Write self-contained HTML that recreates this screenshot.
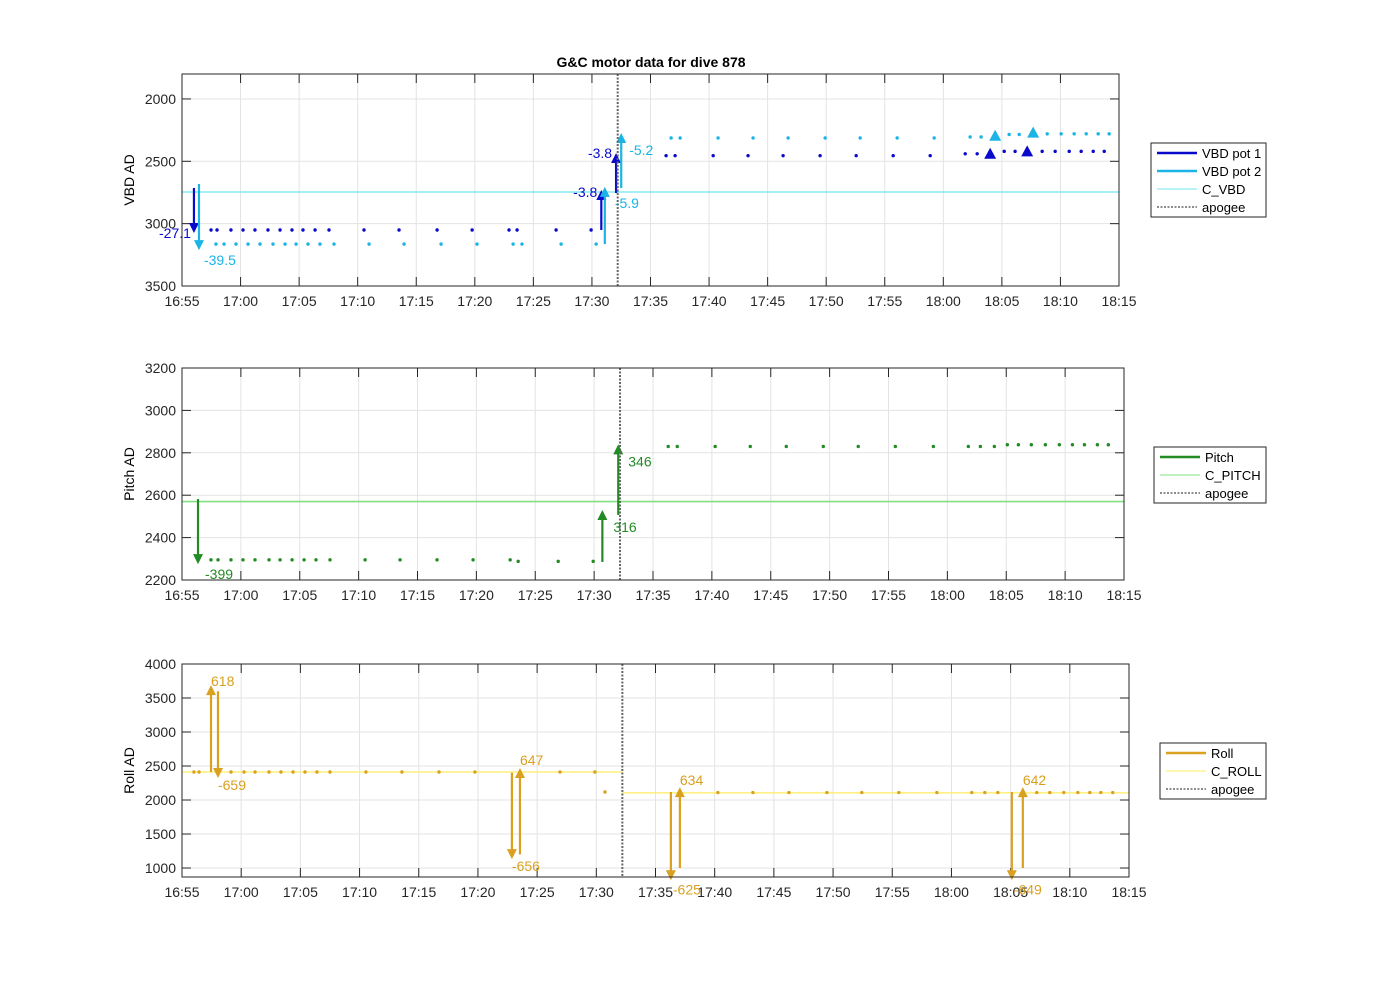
<!DOCTYPE html>
<html><head><meta charset="utf-8"><style>
body{margin:0;background:#fff;}
svg{display:block;font-family:"Liberation Sans",Arial,sans-serif;}
</style></head><body>
<svg id="fig" width="1400" height="986" viewBox="0 0 1400 986">
<rect width="1400" height="986" fill="#fff"/>
<text x="651" y="67" text-anchor="middle" font-size="14" font-weight="bold" fill="#000">G&amp;C motor data for dive 878</text>
</svg>
<script>
// x values are minutes after 16:55
const xTickLabels=["16:55","17:00","17:05","17:10","17:15","17:20","17:25","17:30","17:35","17:40","17:45","17:50","17:55","18:00","18:05","18:10","18:15"];
const apogeeT=37.2;
// VBD panel
const vbdTicks=[2000,2500,3000,3500];
const pot1T=[2.48,2.99,4.18,5.21,6.23,7.34,8.37,9.39,10.33,11.36,12.55,15.54,18.53,21.78,24.77,27.92,28.61,31.94,34.93,41.33,42.10,45.35,48.33,51.32,54.48,57.56,60.72,63.88,66.87,67.89,70.20,71.13,73.44,74.55,75.75,76.77,77.80,78.74];
const pot1V=[3051,3051,3051,3051,3051,3051,3051,3051,3051,3051,3051,3051,3051,3051,3051,3051,3051,3051,3051,2455,2455,2455,2455,2455,2455,2455,2455,2455,2440,2440,2420,2420,2420,2420,2420,2420,2420,2420];
const pot2T=[2.90,3.59,4.61,5.64,6.66,7.77,8.80,9.74,10.76,11.78,12.98,15.97,18.96,22.12,25.19,28.27,29.03,32.37,35.36,41.76,42.53,45.77,48.76,51.75,54.91,57.90,61.06,64.22,67.29,68.23,70.62,71.48,73.87,75.06,76.17,77.20,78.22,79.16];
const pot2V=[3164,3164,3164,3164,3164,3164,3164,3164,3164,3164,3164,3164,3164,3164,3164,3164,3164,3164,3164,2313,2313,2313,2313,2313,2313,2313,2313,2313,2305,2305,2285,2285,2280,2280,2280,2280,2280,2280];
const cVBD=2746;
const pot1ArrT=[1.02,35.8,37.06]; const pot1ArrFrom=[2714,3051,2754]; const pot1ArrTo=[3075,2730,2433]; const pot1ArrLbl=["-27.1","-3.8","-3.8"];
const pot2ArrT=[1.45,36.1,37.5]; const pot2ArrFrom=[2682,3164,2714]; const pot2ArrTo=[3212,2705,2273]; const pot2ArrLbl=["-39.5","-5.9","-5.2"];
const pot1TriT=[69.0,72.16]; const pot1TriV=[2440,2420];
const pot2TriT=[69.43,72.67]; const pot2TriV=[2295,2270];
// Pitch panel
const pitchTicks=[2200,2400,2600,2800,3000,3200];
const pitchT=[2.46,3.06,4.16,5.18,6.20,7.39,8.33,9.35,10.37,11.38,12.57,15.55,18.52,21.66,24.72,27.87,28.55,31.95,34.92,41.29,42.06,45.28,48.26,51.32,54.46,57.43,60.58,63.81,66.78,67.80,68.99,70.09,71.03,72.13,73.32,74.51,75.62,76.64,77.74,78.67];
const pitchV=[2295,2295,2295,2295,2295,2295,2295,2295,2295,2295,2295,2295,2295,2295,2295,2295,2288,2288,2288,2830,2830,2830,2830,2830,2830,2830,2830,2830,2830,2830,2830,2838,2838,2838,2838,2838,2838,2838,2838,2838];
const cPitch=2570;
const pitchArrT=[1.36,35.7,37.05]; const pitchArrFrom=[2582,2285,2507]; const pitchArrTo=[2275,2530,2840]; const pitchArrLbl=["-399","316","346"];
// Roll panel
const rollTicks=[1000,1500,2000,2500,3000,3500,4000];
const rollT=[1.01,1.44,4.14,5.24,6.17,7.35,8.36,9.38,10.39,11.40,12.50,15.54,18.58,21.71,24.75,31.93,34.88,35.73,45.27,48.23,51.27,54.48,57.43,60.56,63.77,66.72,67.82,68.92,72.21,73.31,74.49,75.68,76.69,77.62,78.63];
const rollV=[2412,2412,2412,2412,2412,2412,2412,2412,2412,2412,2412,2412,2412,2412,2412,2412,2412,2118,2110,2110,2110,2110,2110,2110,2110,2110,2110,2110,2110,2110,2110,2110,2110,2110,2110];
const cRollBefore=2412, cRollAfter=2105;
const rollArrT=[2.45,3.04,27.87,28.55,41.3,42.06,70.1,71.03];
const rollArrFrom=[2412,3600,2400,1200,2118,1000,2118,1000];
const rollArrTo=[3690,2324,1130,2470,820,2190,820,2190];
const rollArrLbl=["618","-659","-656","647","-625","634","-649","642"];

const NS="http://www.w3.org/2000/svg";
const svg=document.getElementById('fig');
function mk(tag,attrs,parent){const e=document.createElementNS(NS,tag);for(const k in attrs)e.setAttribute(k,attrs[k]);(parent||svg).appendChild(e);return e;}

function panel(cfg){
  const g=mk('g',{});
  
  
  const {L,R,T,B,ymin,ymax,rev}=cfg;
  const sx=t=>L+(t/80)*(R-L);
  const sy=v=>rev?T+(v-ymin)/(ymax-ymin)*(B-T):B-(v-ymin)/(ymax-ymin)*(B-T);
  // grid
  xTickLabels.forEach((lb,i)=>{const x=sx(i*5);
    mk('line',{x1:x,x2:x,y1:T,y2:B,stroke:'#e3e3e3','stroke-width':1},g);});
  cfg.ticks.forEach(v=>{const y=sy(v);
    mk('line',{x1:L,x2:R,y1:y,y2:y,stroke:'#e3e3e3','stroke-width':1},g);});
  // ticks & labels
  xTickLabels.forEach((lb,i)=>{const x=sx(i*5);
    mk('line',{x1:x,x2:x,y1:B,y2:B-9,stroke:'#262626'},g);
    mk('line',{x1:x,x2:x,y1:T,y2:T+9,stroke:'#262626'},g);
    const t=mk('text',{x:x,y:B+20,'text-anchor':'middle','font-size':14,fill:'#262626'},g);
    
    
    t.textContent=lb;});
  cfg.ticks.forEach(v=>{const y=sy(v);
    mk('line',{x1:L,x2:L+9,y1:y,y2:y,stroke:'#262626'},g);
    mk('line',{x1:R,x2:R-9,y1:y,y2:y,stroke:'#262626'},g);
    const t=mk('text',{x:L-6,y:y+5,'text-anchor':'end','font-size':14,fill:'#262626'},g);
    
    
    t.textContent=v;});
  const yt=mk('text',{x:0,y:0,'text-anchor':'middle','font-size':14,fill:'#000',transform:`translate(${L-48},${(T+B)/2}) rotate(-90)`},g);
  
  
  yt.textContent=cfg.ylabel;
  const clip=mk('g',{},g);
  cfg.draw(clip,sx,sy);
  // apogee
  const ax=sx(apogeeT);
  const ap=mk('line',{x1:ax,x2:ax,y1:T,y2:B,stroke:'#666','stroke-width':2,'stroke-dasharray':'2,1.5'},g);
  
  
  mk('rect',{x:L,y:T,width:R-L,height:B-T,fill:'none',stroke:'#262626','stroke-width':1},g);
  // legend
  const lg=mk('g',{},g);
  
  
  const lw=cfg.legend.w, lx=1266-lw;
  mk('rect',{x:lx,y:cfg.legend.y,width:lw,height:cfg.legend.items.length*18+2,fill:'#fff',stroke:'#262626'},lg);
  cfg.legend.items.forEach((it,i)=>{const y=cfg.legend.y+10+i*18;
    mk('line',{x1:lx+6,x2:lx+46,y1:y,y2:y,stroke:it.c,'stroke-width':it.w,'stroke-dasharray':it.d||'none'},lg);
    const t=mk('text',{x:lx+51,y:y+5,'font-size':13,fill:'#000'},lg);
    
    
    t.textContent=it.t;});
}
function dots(g,T,V,sx,sy,c,name){T.forEach((t,i)=>{const d=mk('circle',{cx:sx(t),cy:sy(V[i]),r:1.7,fill:c},g);
  
  });}
function arrows(g,T,F,To,Lb,lay,sx,sy,c,name){T.forEach((t,i)=>{const x=sx(t),y1=sy(F[i]),y2=sy(To[i]);const dir=y2<y1?-1:1;
  const a=mk('g',{},g);
  
  
  mk('line',{x1:x,x2:x,y1:y1,y2:y2-dir*9,stroke:c,'stroke-width':2.2},a);
  mk('polygon',{points:`${x-5},${y2-dir*10} ${x+5},${y2-dir*10} ${x},${y2}`,fill:c},a);
  const l=lay[i];
  const tx=mk('text',{x:x+l[0],y:y2+l[1],'text-anchor':l[2],'font-size':14,fill:c},a);
  tx.textContent=Lb[i];});}
function tris(g,T,V,sx,sy,c,name){T.forEach((t,i)=>{const x=sx(t),y=sy(V[i]);
  const p=mk('polygon',{points:`${x-6},${y+5} ${x+6},${y+5} ${x},${y-6}`,fill:c},g);
  
  });}

const C1='#0a0acd',C2='#1ab4e6',CV='#6ce6f0',CP='#238b23',CCP='#80e080',CR='#daa020',CCR='#ffec60';
panel({name:'vbd-panel',L:182,R:1119,T:74,B:286,ymin:1800,ymax:3500,rev:true,ticks:vbdTicks,ylabel:'VBD AD',
 legend:{w:115,y:143,items:[{t:'VBD pot 1',c:C1,w:2.5},{t:'VBD pot 2',c:C2,w:2.5},{t:'C_VBD',c:CV,w:1},{t:'apogee',c:'#666',w:1.5,d:'2,1.5'}]},
 draw:(g,sx,sy)=>{
  const l=mk('line',{x1:sx(0),x2:sx(80),y1:sy(cVBD),y2:sy(cVBD),stroke:CV,'stroke-width':1.2},g);
  
  
  dots(g,pot1T,pot1V,sx,sy,C1,'vbd-pot1-point');
  dots(g,pot2T,pot2V,sx,sy,C2,'vbd-pot2-point');
  arrows(g,pot1ArrT,pot1ArrFrom,pot1ArrTo,pot1ArrLbl,[[-3,5,'end'],[-4,7,'end'],[-4,5,'end']],sx,sy,C1,'vbd-pot1-arrow');
  arrows(g,pot2ArrT,pot2ArrFrom,pot2ArrTo,pot2ArrLbl,[[5,15,'start'],[10,21,'start'],[8,22,'start']],sx,sy,C2,'vbd-pot2-arrow');
  tris(g,pot1TriT,pot1TriV,sx,sy,C1,'vbd-pot1-marker');
  tris(g,pot2TriT,pot2TriV,sx,sy,C2,'vbd-pot2-marker');
 }});
panel({name:'pitch-panel',L:182,R:1124,T:368,B:580,ymin:2200,ymax:3200,rev:false,ticks:pitchTicks,ylabel:'Pitch AD',
 legend:{w:112,y:447,items:[{t:'Pitch',c:CP,w:2.5},{t:'C_PITCH',c:CCP,w:1},{t:'apogee',c:'#666',w:1.5,d:'2,1.5'}]},
 draw:(g,sx,sy)=>{
  const l=mk('line',{x1:sx(0),x2:sx(80),y1:sy(cPitch),y2:sy(cPitch),stroke:CCP,'stroke-width':1.6},g);
  
  
  dots(g,pitchT,pitchV,sx,sy,CP,'pitch-point');
  arrows(g,pitchArrT,pitchArrFrom,pitchArrTo,pitchArrLbl,[[7,15,'start'],[11,22,'start'],[10,22,'start']],sx,sy,CP,'pitch-arrow');
 }});
panel({name:'roll-panel',L:182,R:1129,T:664,B:877,ymin:868,ymax:4000,rev:false,ticks:rollTicks,ylabel:'Roll AD',
 legend:{w:106,y:743,items:[{t:'Roll',c:CR,w:2.5},{t:'C_ROLL',c:CCR,w:1},{t:'apogee',c:'#666',w:1.5,d:'2,1.5'}]},
 draw:(g,sx,sy)=>{
  const l1=mk('line',{x1:sx(0),x2:sx(apogeeT),y1:sy(cRollBefore),y2:sy(cRollBefore),stroke:CCR,'stroke-width':1.3},g);
  
  
  const l2=mk('line',{x1:sx(apogeeT),x2:sx(80),y1:sy(cRollAfter),y2:sy(cRollAfter),stroke:CCR,'stroke-width':1.3},g);
  
  
  dots(g,rollT,rollV,sx,sy,CR,'roll-point');
  arrows(g,rollArrT,rollArrFrom,rollArrTo,rollArrLbl,
   [[0,1,'start'],[0,12,'start'],[0,12,'start'],[0,-3,'start'],[2,14,'start'],[0,-2,'start'],[2,14,'start'],[0,-2,'start']],sx,sy,CR,'roll-arrow');
 }});
</script>
</body></html>
